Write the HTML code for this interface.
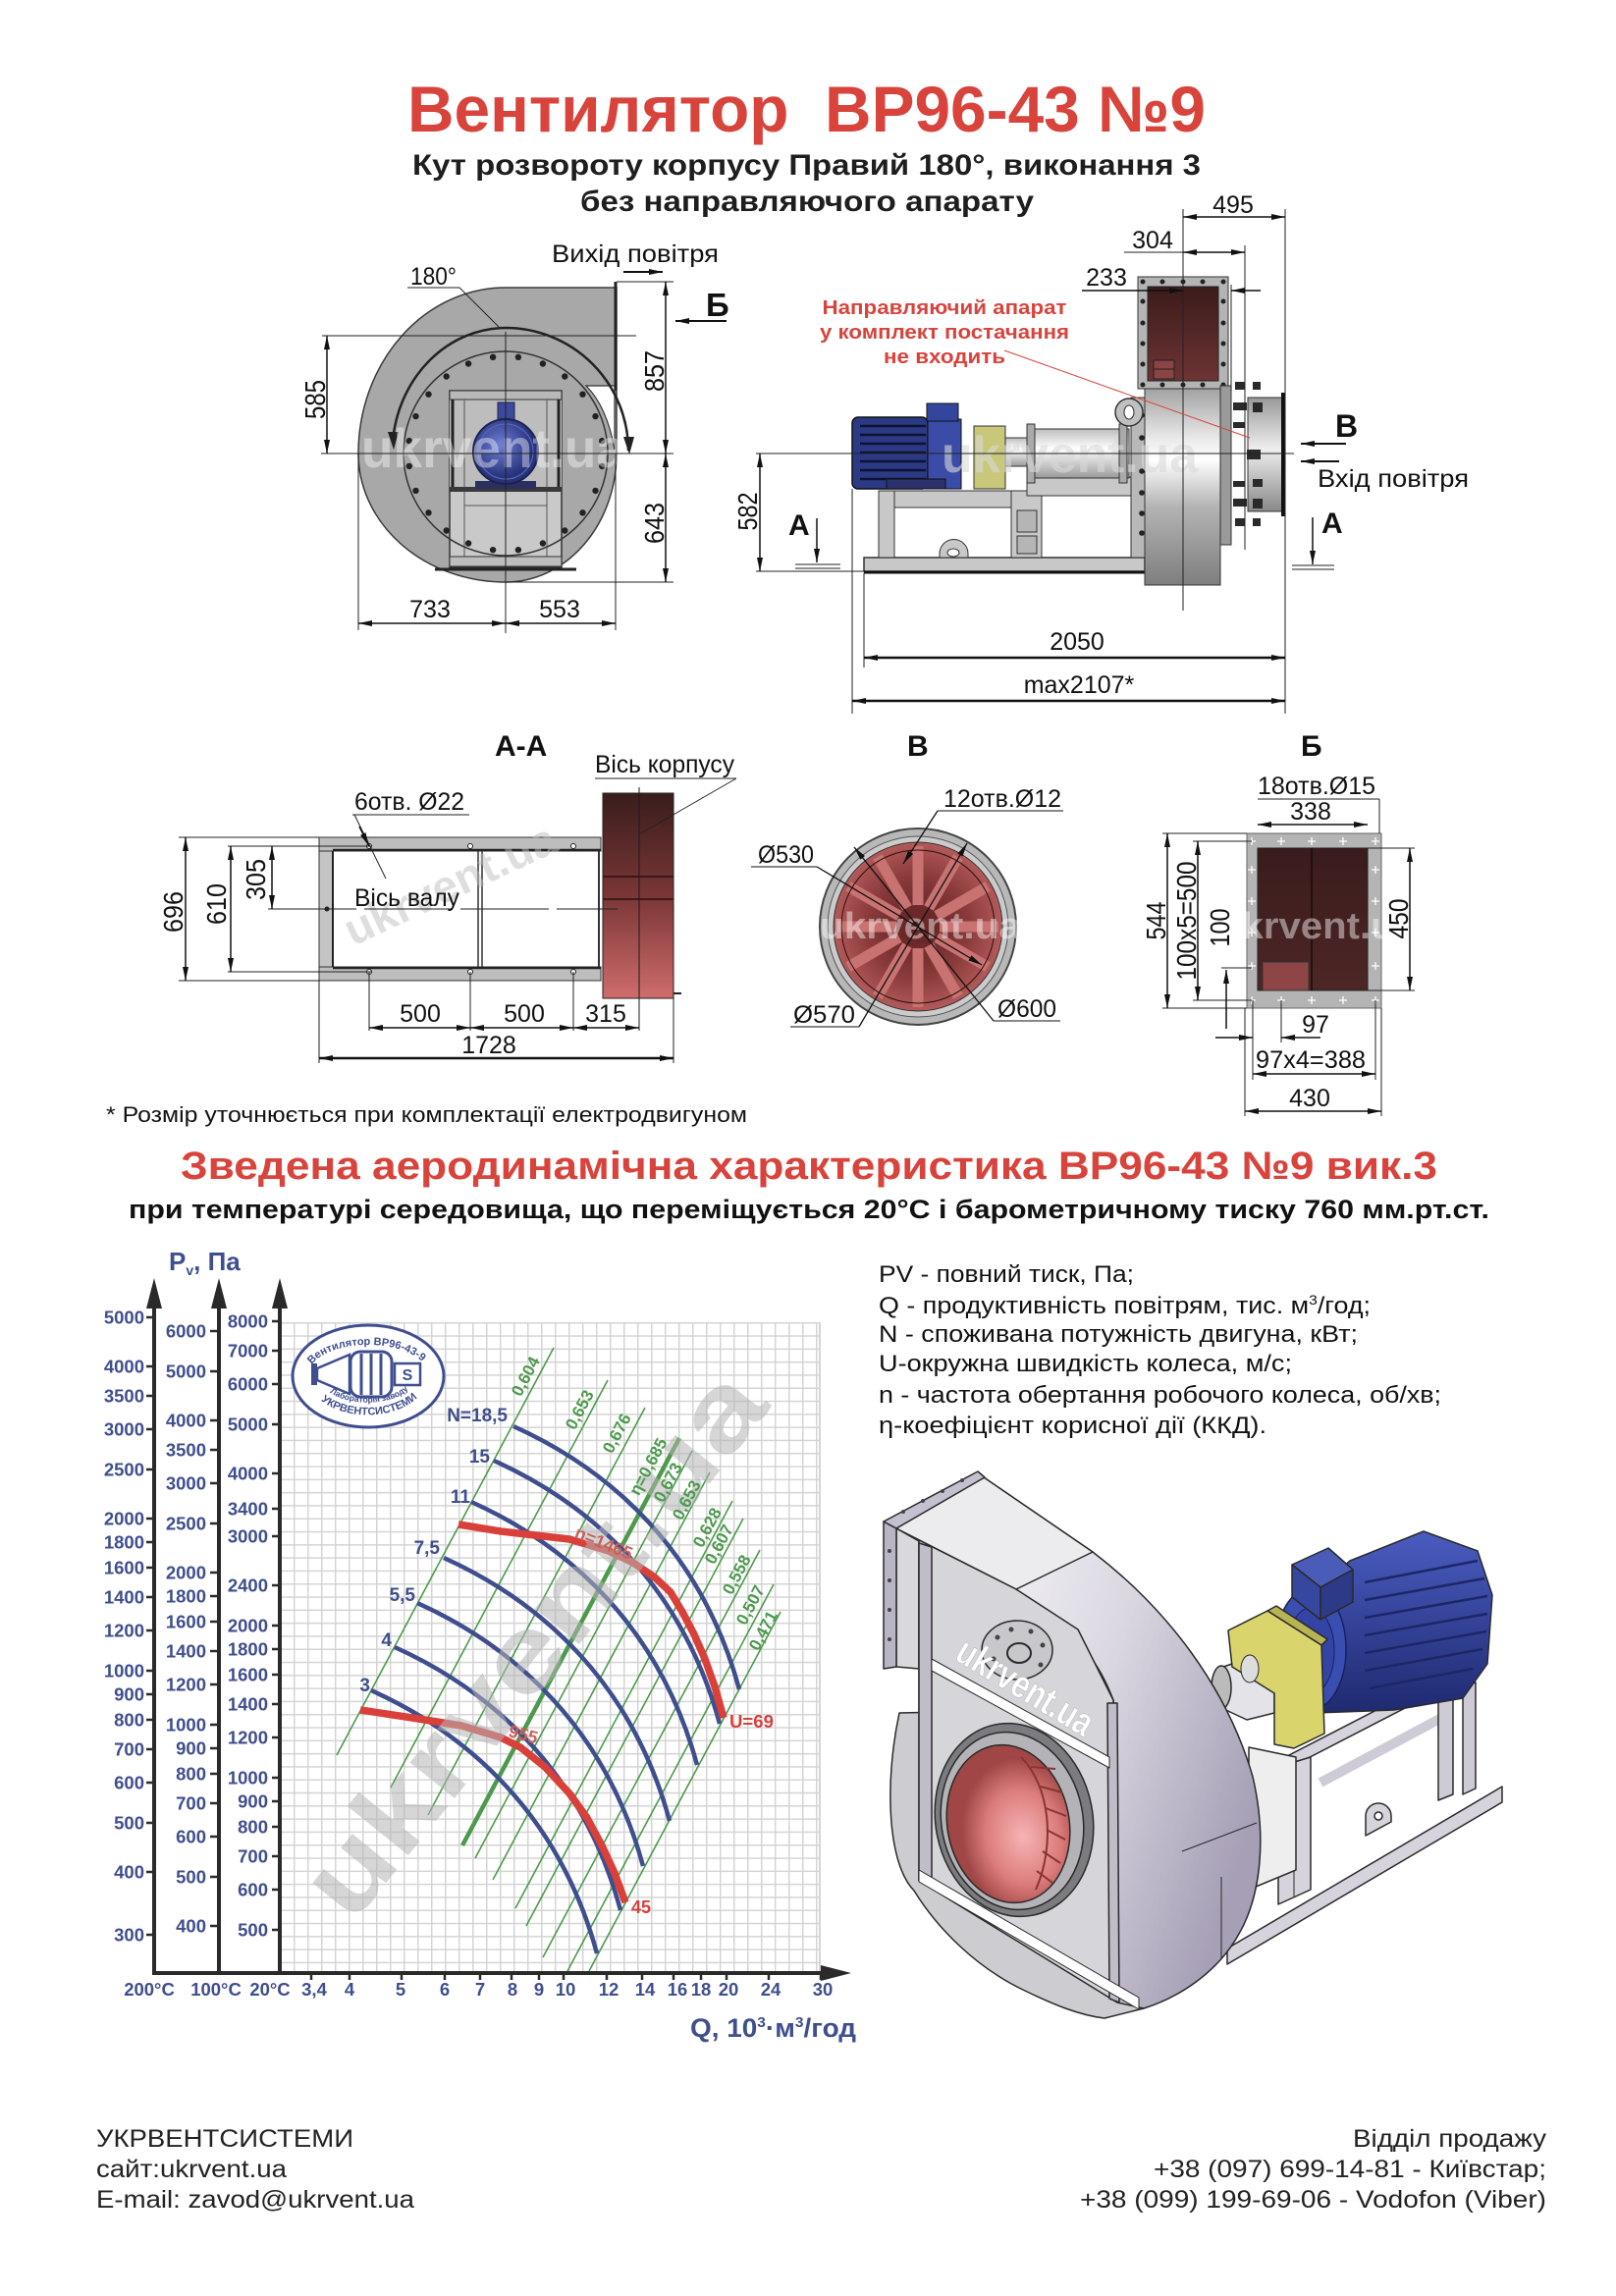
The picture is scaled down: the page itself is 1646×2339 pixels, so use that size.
<!DOCTYPE html>
<html lang="uk"><head><meta charset="utf-8"><title>Вентилятор ВР96-43 №9</title>
<style>html,body{margin:0;padding:0;background:#fff}svg{display:block}text{font-family:"Liberation Sans",Arial,sans-serif}</style></head>
<body>
<svg xmlns="http://www.w3.org/2000/svg" width="1646" height="2339" viewBox="0 0 1646 2339">
<defs>
<marker id="a" viewBox="0 0 14 6" refX="14" refY="3" markerWidth="14" markerHeight="6" markerUnits="userSpaceOnUse" orient="auto-start-reverse"><path d="M0,0L14,3L0,6Z" fill="#111"/></marker>
<pattern id="grid" x="285" y="1347" width="14" height="13.3" patternUnits="userSpaceOnUse"><path d="M0.75,0V13.3M0,0.75H14" stroke="#d4d4d4" stroke-width="1.5" fill="none"/></pattern>
<linearGradient id="casR" x1="0" y1="0" x2="0" y2="1"><stop offset="0" stop-color="#a2a2a2"/><stop offset="0.25" stop-color="#e8e8e8"/><stop offset="0.36" stop-color="#ffffff"/><stop offset="0.6" stop-color="#b4b4b4"/><stop offset="1" stop-color="#7e7e7e"/></linearGradient>
<linearGradient id="brg" x1="0" y1="0" x2="0" y2="1"><stop offset="0" stop-color="#bdbdbd"/><stop offset="0.4" stop-color="#ffffff"/><stop offset="1" stop-color="#9a9a9a"/></linearGradient>
<linearGradient id="outl" x1="0" y1="0" x2="0" y2="1"><stop offset="0" stop-color="#3b1b1b"/><stop offset="1" stop-color="#6e3434"/></linearGradient>
<linearGradient id="aa" x1="0" y1="0" x2="0" y2="1"><stop offset="0" stop-color="#3a1d1d"/><stop offset="0.5" stop-color="#7a3636"/><stop offset="1" stop-color="#cf6c6c"/></linearGradient>
<linearGradient id="bb" x1="0" y1="0" x2="0" y2="1"><stop offset="0" stop-color="#3a1c1c"/><stop offset="1" stop-color="#4e2626"/></linearGradient>
<radialGradient id="bdisk"><stop offset="0" stop-color="#5a2020"/><stop offset="0.6" stop-color="#8a3a3a"/><stop offset="1" stop-color="#b35a5a"/></radialGradient>
<radialGradient id="mot" cx="0.42" cy="0.4"><stop offset="0" stop-color="#7080d8"/><stop offset="1" stop-color="#27327a"/></radialGradient>
<linearGradient id="band" x1="0" y1="0" x2="1" y2="0.6"><stop offset="0" stop-color="#f7f7f9"/><stop offset="0.5" stop-color="#d9d6e0"/><stop offset="1" stop-color="#a69fb6"/></linearGradient>
<radialGradient id="pink" cx="0.6" cy="0.6"><stop offset="0" stop-color="#f6b4b4"/><stop offset="0.6" stop-color="#dc7c7c"/><stop offset="1" stop-color="#a04646"/></radialGradient>
<linearGradient id="cone" x1="0" y1="0" x2="0" y2="1"><stop offset="0" stop-color="#999"/><stop offset="0.45" stop-color="#eee"/><stop offset="1" stop-color="#888"/></linearGradient>
<linearGradient id="motb" x1="0" y1="0" x2="0" y2="1"><stop offset="0" stop-color="#4a5cc0"/><stop offset="1" stop-color="#1f2a70"/></linearGradient>
</defs>

<!-- ===== TITLES ===== -->
<text x="415" y="134" font-size="66" font-weight="bold" fill="#d8433c" textLength="813" lengthAdjust="spacingAndGlyphs" xml:space="preserve">Вентилятор  ВР96-43 №9</text>
<text x="420" y="178" font-size="30" font-weight="bold" fill="#1e1e1e" textLength="803" lengthAdjust="spacingAndGlyphs">Кут розвороту корпусу Правий 180°, виконання 3</text>
<text x="591" y="215" font-size="30" font-weight="bold" fill="#1e1e1e" textLength="462" lengthAdjust="spacingAndGlyphs">без направляючого апарату</text>

<!-- ===== LEFT VIEW ===== -->
<g>
<path d="M628,462 A113,131 0 0 1 515,593 A150,131 0 0 1 365,462 A150,169 0 0 1 515,293 L628,293 L628,462 Z" fill="#a8a8a8" stroke="#3a3a3a" stroke-width="1.5"/>
<path d="M597,393 L626,393 L626,458 C621,430 612,408 597,393 Z" fill="#fff" stroke="#333" stroke-width="1.2"/>
<line x1="627" y1="287" x2="627" y2="398" stroke="#222" stroke-width="3"/>
<rect x="458" y="398" width="114" height="180" fill="#c9c9c9" stroke="#333" stroke-width="1.5"/>
<rect x="458" y="407" width="114" height="90" fill="#bdbdbd"/>
<rect x="458" y="398" width="114" height="9" fill="#b8b8b8" stroke="#333"/>
<line x1="461" y1="407" x2="461" y2="497" stroke="#222" stroke-width="3"/>
<line x1="569" y1="407" x2="569" y2="497" stroke="#222" stroke-width="3"/>
<line x1="473" y1="407" x2="473" y2="567" stroke="#555"/>
<line x1="557" y1="407" x2="557" y2="567" stroke="#555"/>
<rect x="458" y="496" width="114" height="5" fill="#3a3a3a"/>
<line x1="473" y1="515" x2="557" y2="515" stroke="#555"/>
<rect x="458" y="567" width="114" height="10" fill="#bdbdbd" stroke="#333"/>
<line x1="443" y1="580" x2="587" y2="580" stroke="#222" stroke-width="3"/>
<rect x="507" y="410" width="17" height="19" fill="#3b4a9c" stroke="#1c2250"/>
<rect x="484" y="490" width="62" height="8" fill="#2b3060"/>
<circle cx="515" cy="460" r="33" fill="url(#mot)" stroke="#1c2250" stroke-width="2"/>
<circle cx="515" cy="460" r="28" fill="none" stroke="#5565b8" stroke-width="1.2"/>
<circle cx="515" cy="462" r="104" fill="none" stroke="#333" stroke-width="1.5"/>
<g fill="#222">
<circle cx="527.9" cy="363.8" r="3.2"/><circle cx="552.9" cy="370.5" r="3.2"/><circle cx="575.3" cy="383.5" r="3.2"/><circle cx="593.5" cy="401.7" r="3.2"/><circle cx="606.5" cy="424.1" r="3.2"/><circle cx="613.2" cy="449.1" r="3.2"/><circle cx="613.2" cy="474.9" r="3.2"/><circle cx="606.5" cy="499.9" r="3.2"/><circle cx="593.5" cy="522.3" r="3.2"/><circle cx="575.3" cy="540.5" r="3.2"/><circle cx="552.9" cy="553.5" r="3.2"/><circle cx="527.9" cy="560.2" r="3.2"/><circle cx="502.1" cy="560.2" r="3.2"/><circle cx="477.1" cy="553.5" r="3.2"/><circle cx="454.7" cy="540.5" r="3.2"/><circle cx="436.5" cy="522.3" r="3.2"/><circle cx="423.5" cy="499.9" r="3.2"/><circle cx="416.8" cy="474.9" r="3.2"/><circle cx="416.8" cy="449.1" r="3.2"/><circle cx="423.5" cy="424.1" r="3.2"/><circle cx="436.5" cy="401.7" r="3.2"/><circle cx="454.7" cy="383.5" r="3.2"/><circle cx="477.1" cy="370.5" r="3.2"/><circle cx="502.1" cy="363.8" r="3.2"/>
</g>
<path d="M400,450 A116,128 0 0 1 515,334 A125,125 0 0 1 640,459" fill="none" stroke="#222" stroke-width="2.5"/>
<polygon points="395,440 406,440 401,458" fill="#222"/>
<polygon points="635,445 646,445 641,463" fill="#222"/>
<text x="368" y="476" font-size="56" font-weight="bold" fill="#fff" fill-opacity="0.4" textLength="269" lengthAdjust="spacingAndGlyphs">ukrvent.ua</text>
<g stroke="#222" stroke-width="1" fill="none">
<line x1="515" y1="338" x2="515" y2="645"/>
<line x1="327" y1="462" x2="686" y2="462"/>
<line x1="328" y1="342" x2="648" y2="342"/>
<line x1="628" y1="287" x2="686" y2="287"/>
<line x1="515" y1="593" x2="686" y2="593"/>
<line x1="365" y1="462" x2="365" y2="642"/>
<line x1="627" y1="462" x2="627" y2="642"/>
<line x1="415" y1="293" x2="468" y2="293"/>
<line x1="468" y1="293" x2="508" y2="333"/>
</g>
<g stroke="#111" stroke-width="1.5" marker-start="url(#a)" marker-end="url(#a)">
<line x1="333" y1="342" x2="333" y2="462"/>
<line x1="678" y1="287" x2="678" y2="462"/>
<line x1="678" y1="462" x2="678" y2="593"/>
<line x1="365" y1="635" x2="515" y2="635"/>
<line x1="515" y1="635" x2="627" y2="635"/>
</g>
<line x1="635" y1="277" x2="675" y2="277" stroke="#111" stroke-width="2" marker-end="url(#a)"/>
<line x1="740" y1="327" x2="688" y2="327" stroke="#111" stroke-width="2" marker-end="url(#a)"/>
<g font-size="25" fill="#111">
<text x="562" y="267" textLength="170" lengthAdjust="spacingAndGlyphs">Вихід повітря</text>
<text x="418" y="290" textLength="47" lengthAdjust="spacingAndGlyphs">180°</text>
<text x="438" y="629" text-anchor="middle">733</text>
<text x="570" y="629" text-anchor="middle">553</text>
<text x="331" y="407" transform="rotate(-90 331 407)" text-anchor="middle" font-size="29" textLength="40" lengthAdjust="spacingAndGlyphs">585</text>
<text x="676" y="378" transform="rotate(-90 676 378)" text-anchor="middle" font-size="28" textLength="42" lengthAdjust="spacingAndGlyphs">857</text>
<text x="676" y="533" transform="rotate(-90 676 533)" text-anchor="middle" font-size="28" textLength="42" lengthAdjust="spacingAndGlyphs">643</text>
</g>
<text x="719" y="322" font-size="33" font-weight="bold" fill="#111">Б</text>
</g>

<!-- ===== RIGHT VIEW ===== -->
<g>
<rect x="880" y="568" width="286" height="14" fill="#c8c8c8" stroke="#333" stroke-width="1.5"/>
<line x1="880" y1="583" x2="1166" y2="583" stroke="#111" stroke-width="3"/>
<rect x="895" y="500" width="137" height="17" fill="#c8c8c8" stroke="#333"/>
<rect x="895" y="500" width="16" height="68" fill="#c8c8c8" stroke="#333"/>
<rect x="1030" y="500" width="31" height="68" fill="#c8c8c8" stroke="#333"/>
<rect x="1036" y="520" width="20" height="22" fill="#b5b5b5" stroke="#333"/>
<rect x="1036" y="546" width="20" height="18" fill="#b5b5b5" stroke="#333"/>
<rect x="1046" y="486" width="106" height="19" fill="#c8c8c8" stroke="#333"/>
<path d="M957,568 L957,564 A14.5,14.5 0 0 1 986,564 L986,568 Z" fill="#c8c8c8" stroke="#333"/>
<ellipse cx="971" cy="563" rx="6" ry="4" fill="#fff" stroke="#333"/>
<rect x="868" y="425" width="77" height="73" rx="6" fill="#2c3a86" stroke="#111" stroke-width="1.5"/>
<g stroke="#0d1233" stroke-width="2.5"><line x1="876" y1="434" x2="943" y2="434"/><line x1="876" y1="443" x2="943" y2="443"/><line x1="876" y1="452" x2="943" y2="452"/><line x1="876" y1="461" x2="943" y2="461"/><line x1="876" y1="470" x2="943" y2="470"/><line x1="876" y1="479" x2="943" y2="479"/><line x1="876" y1="488" x2="943" y2="488"/></g>
<rect x="945" y="427" width="34" height="71" fill="#3b4ca8" stroke="#111"/>
<rect x="944" y="411" width="32" height="18" fill="#34459e" stroke="#111"/>
<rect x="903" y="488" width="60" height="10" fill="#2a336e" stroke="#111"/>
<rect x="992" y="434" width="32" height="64" fill="#c9c77a" stroke="#333"/>
<rect x="1024" y="446" width="22" height="29" fill="url(#brg)" stroke="#333"/>
<rect x="1046" y="437" width="104" height="50" fill="url(#brg)" stroke="#333"/>
<rect x="1046" y="432" width="8" height="60" fill="#aaa" stroke="#333"/>
<rect x="1140" y="432" width="8" height="60" fill="#aaa" stroke="#333"/>
<rect x="1166" y="396" width="77" height="200" fill="url(#casR)" stroke="#333"/>
<rect x="1152" y="405" width="14" height="163" fill="#b8b8b8" stroke="#333"/>
<g fill="#222"><circle cx="1163" cy="423" r="2.8"/><circle cx="1163" cy="446" r="2.8"/><circle cx="1163" cy="480" r="2.8"/><circle cx="1163" cy="502" r="2.8"/><circle cx="1163" cy="523" r="2.8"/><circle cx="1163" cy="543" r="2.8"/></g>
<circle cx="1150" cy="420" r="14" fill="#c0c0c0" stroke="#333" stroke-width="1.5"/>
<ellipse cx="1150" cy="420" rx="5" ry="7" fill="#fff" stroke="#333"/>
<rect x="1159" y="282" width="92" height="114" fill="#b4b4b4" stroke="#333"/>
<rect x="1169" y="292" width="72" height="96" fill="url(#outl)" stroke="#222"/>
<rect x="1175" y="367" width="21" height="19" fill="#8a4444" stroke="#222"/>
<line x1="1175" y1="376" x2="1196" y2="376" stroke="#222"/>
<g fill="#222"><circle cx="1164" cy="287" r="2.5"/><circle cx="1184" cy="287" r="2.5"/><circle cx="1205" cy="287" r="2.5"/><circle cx="1225" cy="287" r="2.5"/><circle cx="1246" cy="287" r="2.5"/><circle cx="1164" cy="392" r="2.5"/><circle cx="1184" cy="392" r="2.5"/><circle cx="1205" cy="392" r="2.5"/><circle cx="1225" cy="392" r="2.5"/><circle cx="1246" cy="392" r="2.5"/><circle cx="1164" cy="307" r="2.5"/><circle cx="1164" cy="329" r="2.5"/><circle cx="1164" cy="350" r="2.5"/><circle cx="1164" cy="371" r="2.5"/><circle cx="1246" cy="307" r="2.5"/><circle cx="1246" cy="329" r="2.5"/><circle cx="1246" cy="350" r="2.5"/><circle cx="1246" cy="371" r="2.5"/></g>
<rect x="1243" y="393" width="11" height="162" fill="#9a9a9a" stroke="#333"/>
<rect x="1271" y="405" width="36" height="116" fill="url(#cone)" stroke="#333"/>
<line x1="1307" y1="400" x2="1307" y2="526" stroke="#111" stroke-width="4"/>
<g fill="#2a2a2a"><rect x="1258" y="389" width="10" height="8"/><rect x="1276" y="389" width="8" height="8"/><rect x="1256" y="410" width="14" height="8"/><rect x="1276" y="410" width="10" height="10"/><rect x="1256" y="430" width="12" height="6"/><rect x="1270" y="458" width="14" height="10"/><rect x="1256" y="490" width="12" height="6"/><rect x="1276" y="488" width="10" height="8"/><rect x="1256" y="508" width="14" height="8"/><rect x="1276" y="508" width="10" height="10"/><rect x="1258" y="528" width="10" height="8"/><rect x="1276" y="528" width="8" height="8"/></g>
<text x="959" y="481" font-size="52" font-weight="bold" fill="#d8d8d8" fill-opacity="0.6" textLength="261" lengthAdjust="spacingAndGlyphs">ukrvent.ua</text>
<g stroke="#222" stroke-width="1" fill="none">
<line x1="1205" y1="213" x2="1205" y2="622"/>
<line x1="770" y1="462" x2="1318" y2="462"/>
<line x1="770" y1="582" x2="880" y2="582"/>
<line x1="1309" y1="213" x2="1309" y2="727"/>
<line x1="1268" y1="250" x2="1268" y2="560"/>
<line x1="1254" y1="290" x2="1254" y2="398"/>
<line x1="868" y1="498" x2="868" y2="727"/>
<line x1="880" y1="584" x2="880" y2="680"/>
<line x1="1145" y1="257" x2="1205" y2="257"/>
<line x1="810" y1="575" x2="856" y2="575"/><line x1="810" y1="579" x2="856" y2="579"/>
<line x1="1316" y1="576" x2="1359" y2="576"/><line x1="1316" y1="580" x2="1359" y2="580"/>
</g>
<g stroke="#111" stroke-width="1.5" marker-start="url(#a)" marker-end="url(#a)">
<line x1="1205" y1="221" x2="1309" y2="221"/>
<line x1="1205" y1="257" x2="1268" y2="257"/>
<line x1="774" y1="462" x2="774" y2="582"/>
<line x1="880" y1="670" x2="1309" y2="670" stroke-width="2.5"/>
<line x1="868" y1="714" x2="1309" y2="714" stroke-width="2.5"/>
</g>
<g stroke="#111" stroke-width="1.5" marker-end="url(#a)">
<line x1="1102" y1="296" x2="1205" y2="296"/>
<line x1="1284" y1="296" x2="1254" y2="296"/>
<line x1="832" y1="528" x2="832" y2="573"/>
<line x1="1337" y1="527" x2="1337" y2="575"/>
<line x1="1371" y1="452" x2="1325" y2="452" stroke-width="2"/>
<line x1="1364" y1="470" x2="1325" y2="470" stroke-width="2"/>
</g>
<line x1="1023" y1="357" x2="1273" y2="446" stroke="#d8433c" stroke-width="1"/>
<g font-size="25" fill="#111">
<text x="1256" y="217" text-anchor="middle">495</text>
<text x="1174" y="253" text-anchor="middle">304</text>
<text x="1127" y="291" text-anchor="middle">233</text>
<text x="1097" y="662" text-anchor="middle">2050</text>
<text x="1099" y="706" text-anchor="middle">max2107*</text>
<text x="1342" y="496" textLength="154" lengthAdjust="spacingAndGlyphs">Вхід повітря</text>
<text x="771" y="521" transform="rotate(-90 771 521)" text-anchor="middle" font-size="28" textLength="39" lengthAdjust="spacingAndGlyphs">582</text>
</g>
<g font-weight="bold" fill="#111">
<text x="803" y="545" font-size="30">A</text>
<text x="1346" y="543" font-size="30">A</text>
<text x="1360" y="445" font-size="32">B</text>
</g>
<g font-size="20" font-weight="bold" fill="#d8433c" text-anchor="middle">
<text x="962" y="320" textLength="249" lengthAdjust="spacingAndGlyphs">Направляючий апарат</text>
<text x="962" y="345" textLength="254" lengthAdjust="spacingAndGlyphs">у комплект постачання</text>
<text x="962" y="370" textLength="124" lengthAdjust="spacingAndGlyphs">не входить</text>
</g>
</g>

<!-- ===== SECTION HEADINGS ===== -->
<g font-size="30" font-weight="bold" fill="#111">
<text x="504" y="770">A-A</text>
<text x="924" y="770">В</text>
<text x="1325" y="770">Б</text>
</g>

<!-- ===== A-A ===== -->
<g>
<rect x="325" y="853" width="287" height="14" fill="#bdbdbd" stroke="#333"/>
<rect x="325" y="985" width="287" height="14" fill="#bdbdbd" stroke="#333"/>
<rect x="325" y="867" width="14" height="118" fill="#c4c4c4" stroke="#333"/>
<line x1="339" y1="866" x2="612" y2="866" stroke="#222" stroke-width="2.5"/>
<line x1="339" y1="986" x2="612" y2="986" stroke="#222" stroke-width="2.5"/>
<line x1="339" y1="867" x2="339" y2="985" stroke="#222" stroke-width="2"/>
<line x1="487" y1="867" x2="487" y2="985" stroke="#333" stroke-width="1.5"/>
<line x1="491" y1="867" x2="491" y2="985" stroke="#333" stroke-width="1.5"/>
<line x1="610" y1="867" x2="610" y2="985" stroke="#333" stroke-width="2"/>
<g fill="#fff" stroke="#222"><circle cx="376" cy="862" r="2.5"/><circle cx="479" cy="862" r="2.5"/><circle cx="584" cy="862" r="2.5"/><circle cx="376" cy="990" r="2.5"/><circle cx="479" cy="990" r="2.5"/><circle cx="584" cy="990" r="2.5"/></g>
<circle cx="333" cy="926" r="2.5" fill="#222"/>
<rect x="614" y="808" width="72" height="209" fill="url(#aa)" stroke="#222"/>
<line x1="614" y1="893" x2="686" y2="893" stroke="#2a1010" stroke-width="1.5"/>
<line x1="614" y1="916" x2="686" y2="916" stroke="#2a1010" stroke-width="1.5"/>
<line x1="651" y1="802" x2="651" y2="1050" stroke="#1a1a1a" stroke-width="1"/>
<line x1="686" y1="1012" x2="694" y2="1012" stroke="#222" stroke-width="2"/>
<text transform="translate(465,915) rotate(-25)" text-anchor="middle" font-size="46" font-weight="bold" fill="#bdbdbd" fill-opacity="0.5">ukrvent.ua</text>
<g stroke="#222" stroke-width="1" fill="none">
<line x1="273" y1="926" x2="629" y2="926" stroke-dasharray="90 8"/>
<line x1="182" y1="853" x2="325" y2="853"/>
<line x1="182" y1="999" x2="325" y2="999"/>
<line x1="232" y1="862" x2="379" y2="862"/>
<line x1="232" y1="990" x2="379" y2="990"/>
<line x1="359" y1="830" x2="478" y2="830"/>
<line x1="361" y1="830" x2="393" y2="895"/>
<line x1="606" y1="793" x2="750" y2="793"/>
<line x1="750" y1="793" x2="651" y2="850"/>
<line x1="325" y1="999" x2="325" y2="1083"/>
<line x1="686" y1="1017" x2="686" y2="1083"/>
<line x1="376" y1="990" x2="376" y2="1050"/>
<line x1="479" y1="990" x2="479" y2="1050"/>
<line x1="584" y1="990" x2="584" y2="1050"/>
</g>
<line x1="366" y1="842" x2="376" y2="862" stroke="#111" stroke-width="1.5" marker-end="url(#a)"/>
<g stroke="#111" stroke-width="1.5" marker-start="url(#a)" marker-end="url(#a)">
<line x1="189" y1="853" x2="189" y2="999"/>
<line x1="235" y1="862" x2="235" y2="990"/>
<line x1="277" y1="862" x2="277" y2="926"/>
<line x1="376" y1="1047" x2="479" y2="1047"/>
<line x1="479" y1="1047" x2="584" y2="1047"/>
<line x1="584" y1="1047" x2="651" y2="1047"/>
<line x1="325" y1="1078" x2="686" y2="1078" stroke-width="2.5"/>
</g>
<g font-size="25" fill="#111">
<text x="606" y="787" textLength="142" lengthAdjust="spacingAndGlyphs">Вісь корпусу</text>
<text x="361" y="825" textLength="112" lengthAdjust="spacingAndGlyphs">6отв. Ø22</text>
<text x="361" y="923" textLength="107" lengthAdjust="spacingAndGlyphs">Вісь валу</text>
<text x="428" y="1041" text-anchor="middle">500</text>
<text x="534" y="1041" text-anchor="middle">500</text>
<text x="617" y="1041" text-anchor="middle">315</text>
<text x="498" y="1073" text-anchor="middle">1728</text>
<text x="186" y="929" transform="rotate(-90 186 929)" text-anchor="middle" font-size="28" textLength="42" lengthAdjust="spacingAndGlyphs">696</text>
<text x="230" y="921" transform="rotate(-90 230 921)" text-anchor="middle" font-size="28" textLength="42" lengthAdjust="spacingAndGlyphs">610</text>
<text x="270" y="896" transform="rotate(-90 270 896)" text-anchor="middle" font-size="28" textLength="42" lengthAdjust="spacingAndGlyphs">305</text>
</g>
</g>

<!-- ===== VIEW В ===== -->
<g>
<circle cx="935" cy="944" r="100" fill="#b8b8b8" stroke="#444" stroke-width="2"/>
<circle cx="935" cy="944" r="92" fill="#cbcbcb" stroke="#555"/>
<circle cx="935" cy="944" r="86" fill="url(#bdisk)" stroke="#333"/>
<path d="M957,944L1017,944M954.1,955L1006,985M946,963.1L976,1015M935,966L935,1026M924,963.1L894,1015M915.9,955L864,985M913,944L853,944M915.9,933L864,903M924,924.9L894,873M935,922L935,862M946,924.9L976,873M954.1,933L1006,903" stroke="#c87272" stroke-width="11"/>
<circle cx="935" cy="944" r="78" fill="none" stroke="#2a1010" stroke-width="1"/>
<circle cx="935" cy="944" r="18" fill="#6a2828"/>
<text x="835" y="956" font-size="38" font-weight="bold" fill="#fff" fill-opacity="0.45" textLength="205" lengthAdjust="spacingAndGlyphs">ukrvent.ua</text>
<g stroke="#111" stroke-width="1" fill="none">
<line x1="955" y1="826" x2="1083" y2="826"/>
<line x1="765" y1="883" x2="832" y2="883"/>
<line x1="805" y1="1046" x2="875" y2="1046"/>
<line x1="1012" y1="1040" x2="1080" y2="1040"/>
</g>
<g stroke="#111" stroke-width="1.3" marker-end="url(#a)">
<line x1="955" y1="826" x2="920" y2="880"/>
<line x1="832" y1="883" x2="1000" y2="983"/>
<line x1="875" y1="1046" x2="985" y2="859"/>
<line x1="1012" y1="1040" x2="870" y2="863"/>
</g>
<g font-size="25" fill="#111">
<text x="961" y="822" textLength="120" lengthAdjust="spacingAndGlyphs">12отв.Ø12</text>
<text x="772" y="879" textLength="57" lengthAdjust="spacingAndGlyphs">Ø530</text>
<text x="808" y="1042" textLength="63" lengthAdjust="spacingAndGlyphs">Ø570</text>
<text x="1016" y="1036" textLength="60" lengthAdjust="spacingAndGlyphs">Ø600</text>
</g>
</g>

<!-- ===== VIEW Б ===== -->
<g>
<rect x="1270" y="849" width="137" height="178" fill="#b4b4b4" stroke="#666"/>
<rect x="1281" y="864" width="112" height="145" fill="url(#bb)" stroke="#222"/>
<line x1="1336" y1="864" x2="1336" y2="1009" stroke="#1a0a0a" stroke-width="1.5"/>
<rect x="1286" y="980" width="47" height="29" fill="#8e4545" stroke="#333"/>
<g stroke="#fff" stroke-width="1.3">
<path d="M1271,857h8M1275,853v8M1301,857h8M1305,853v8M1332,857h8M1336,853v8M1364,857h8M1368,853v8M1397,857h8M1401,853v8"/>
<path d="M1271,1019h8M1275,1015v8M1301,1019h8M1305,1015v8M1332,1019h8M1336,1015v8M1364,1019h8M1368,1015v8M1397,1019h8M1401,1015v8"/>
<path d="M1271,886h8M1275,882v8M1271,918h8M1275,914v8M1271,950h8M1275,946v8M1271,984h8M1275,980v8"/>
<path d="M1397,886h8M1401,882v8M1397,918h8M1401,914v8M1397,950h8M1401,946v8M1397,984h8M1401,980v8"/>
</g>
<text x="1240" y="956" font-size="38" font-weight="bold" fill="#fff" fill-opacity="0.45" textLength="203" lengthAdjust="spacingAndGlyphs">ukrvent.ua</text>
<g stroke="#222" stroke-width="1" fill="none">
<line x1="1281" y1="814" x2="1405" y2="814"/>
<line x1="1405" y1="814" x2="1405" y2="849"/>
<line x1="1184" y1="849" x2="1270" y2="849"/>
<line x1="1184" y1="1027" x2="1270" y2="1027"/>
<line x1="1215" y1="857" x2="1275" y2="857"/>
<line x1="1215" y1="1019" x2="1275" y2="1019"/>
<line x1="1244" y1="986" x2="1275" y2="986"/>
<line x1="1393" y1="864" x2="1441" y2="864"/>
<line x1="1393" y1="1009" x2="1441" y2="1009"/>
<line x1="1268" y1="1027" x2="1268" y2="1137"/>
<line x1="1407" y1="1027" x2="1407" y2="1137"/>
<line x1="1276" y1="1019" x2="1276" y2="1100"/>
<line x1="1401" y1="1019" x2="1401" y2="1100"/>
<line x1="1305" y1="1019" x2="1305" y2="1062"/>
</g>
<g stroke="#111" stroke-width="1.5" marker-start="url(#a)" marker-end="url(#a)">
<line x1="1281" y1="840" x2="1393" y2="840"/>
<line x1="1189" y1="849" x2="1189" y2="1027"/>
<line x1="1220" y1="857" x2="1220" y2="1019"/>
<line x1="1436" y1="864" x2="1436" y2="1009"/>
<line x1="1276" y1="1094" x2="1401" y2="1094"/>
<line x1="1268" y1="1132" x2="1407" y2="1132"/>
</g>
<g stroke="#111" stroke-width="1.5" marker-end="url(#a)">
<line x1="1249" y1="1048" x2="1249" y2="988"/>
<line x1="1238" y1="1057" x2="1276" y2="1057"/>
<line x1="1345" y1="1057" x2="1305" y2="1057"/>
</g>
<g font-size="25" fill="#111">
<text x="1281" y="809" textLength="120" lengthAdjust="spacingAndGlyphs">18отв.Ø15</text>
<text x="1335" y="835" text-anchor="middle">338</text>
<text x="1340" y="1052" text-anchor="middle">97</text>
<text x="1279" y="1088" textLength="112" lengthAdjust="spacingAndGlyphs">97x4=388</text>
<text x="1334" y="1127" text-anchor="middle">430</text>
<text x="1187" y="938" transform="rotate(-90 1187 938)" text-anchor="middle" font-size="28" textLength="39" lengthAdjust="spacingAndGlyphs">544</text>
<text x="1218" y="938" transform="rotate(-90 1218 938)" text-anchor="middle" font-size="28" textLength="121" lengthAdjust="spacingAndGlyphs">100x5=500</text>
<text x="1252" y="945" transform="rotate(-90 1252 945)" text-anchor="middle" font-size="28" textLength="39" lengthAdjust="spacingAndGlyphs">100</text>
<text x="1434" y="936" transform="rotate(-90 1434 936)" text-anchor="middle" font-size="28" textLength="41" lengthAdjust="spacingAndGlyphs">450</text>
</g>
</g>

<!-- ===== FOOTNOTE & HEADINGS ===== -->
<text x="108" y="1143" font-size="22" fill="#111" textLength="653" lengthAdjust="spacingAndGlyphs">* Розмір уточнюється при комплектації електродвигуном</text>
<text x="184" y="1201" font-size="40" font-weight="bold" fill="#d8433c" textLength="1280" lengthAdjust="spacingAndGlyphs">Зведена аеродинамічна характеристика ВР96-43 №9 вик.3</text>
<text x="131" y="1241" font-size="27" font-weight="bold" fill="#111" textLength="1386" lengthAdjust="spacingAndGlyphs">при температурі середовища, що переміщується 20°С і барометричному тиску 760 мм.рт.ст.</text>

<!-- ===== CHART ===== -->
<g>
<rect x="285" y="1347" width="550" height="663" fill="url(#grid)"/>
<line x1="835" y1="1347" x2="835" y2="2010" stroke="#d4d4d4" stroke-width="2"/>
<!-- green eff lines -->
<g stroke="#4c9a4c" stroke-width="1.6">
<line x1="564" y1="1373" x2="343" y2="1788"/>
<line x1="619" y1="1406" x2="398" y2="1821"/>
<line x1="657" y1="1434" x2="436" y2="1849"/>
<line x1="705" y1="1478" x2="484" y2="1893"/>
<line x1="723" y1="1500" x2="502" y2="1915"/>
<line x1="746" y1="1529" x2="525" y2="1944"/>
<line x1="757" y1="1547" x2="536" y2="1962"/>
<line x1="774" y1="1579" x2="553" y2="1994"/>
<line x1="788" y1="1614" x2="578" y2="2008"/>
<line x1="795" y1="1642" x2="600" y2="2008"/>
</g>
<line x1="692" y1="1465" x2="471" y2="1880" stroke="#4c9a4c" stroke-width="4.5"/>
<!-- blue curves -->
<g stroke="#3f4e8e" stroke-width="4.5" fill="none" stroke-linecap="butt">
<path d="M523,1453 c100,45 192,128 230,268"/>
<path d="M503,1488 c100,45 192,128 230,268"/>
<path d="M480,1530 c100,45 192,128 230,268"/>
<path d="M452,1587 c100,45 192,128 230,268"/>
<path d="M425,1633 c100,45 192,128 230,268"/>
<path d="M402,1678 c100,45 192,128 230,268"/>
<path d="M378,1722 c100,45 192,128 230,268"/>
</g>
<!-- red curves -->
<g stroke="#d9403a" stroke-width="7.5" fill="none" stroke-linejoin="round">
<polyline points="467,1553 510,1560 580,1568 620,1580 645,1592 667,1607 683,1622 695,1642 707,1665 718,1690 728,1718 737,1750"/>
<polyline points="367,1742 420,1750 470,1758 510,1770 530,1780 555,1800 580,1827 598,1852 613,1880 626,1908 637,1938"/>
</g>
<!-- watermark -->
<text transform="translate(545,1675) rotate(-51)" y="35" text-anchor="middle" font-size="110" font-weight="bold" fill="#b4b4b4" fill-opacity="0.55" textLength="680" lengthAdjust="spacingAndGlyphs">ukrvent.ua</text>
<!-- green labels -->
<g font-size="17" font-weight="bold" fill="#4c9a4c" text-anchor="middle">
<text transform="translate(535,1402) rotate(-62)" y="6">0,604</text>
<text transform="translate(590,1436) rotate(-62)" y="6">0,653</text>
<text transform="translate(628,1460) rotate(-62)" y="6">0,676</text>
<text transform="translate(660,1494) rotate(-62)" y="6">η=0,685</text>
<text transform="translate(680,1510) rotate(-62)" y="6">0,673</text>
<text transform="translate(699,1528) rotate(-62)" y="6">0,653</text>
<text transform="translate(720,1556) rotate(-62)" y="6">0,628</text>
<text transform="translate(732,1573) rotate(-62)" y="6">0,607</text>
<text transform="translate(750,1604) rotate(-62)" y="6">0,558</text>
<text transform="translate(764,1635) rotate(-62)" y="6">0,507</text>
<text transform="translate(777,1661) rotate(-62)" y="6">0,471</text>
</g>
<!-- blue labels -->
<g font-size="19" font-weight="bold" fill="#3f4e8e" text-anchor="end">
<text x="517" y="1448">N=18,5</text>
<text x="499" y="1490">15</text>
<text x="479" y="1531">11</text>
<text x="448" y="1583">7,5</text>
<text x="423" y="1631">5,5</text>
<text x="399" y="1677">4</text>
<text x="377" y="1723">3</text>
</g>
<g font-size="18" font-weight="bold" fill="#d9403a">
<text x="743" y="1760" textLength="45" lengthAdjust="spacingAndGlyphs">U=69</text>
<text x="643" y="1949">45</text>
<text transform="translate(615,1572) rotate(22)" y="6" text-anchor="middle" fill="#c9605a">n=1465</text>
<text transform="translate(533,1767) rotate(15)" y="6" text-anchor="middle" fill="#c9605a">955</text>
</g>
<!-- axes -->
<g stroke="#2a2a2a" stroke-width="4">
<line x1="157" y1="1325" x2="157" y2="2012"/>
<line x1="223" y1="1325" x2="223" y2="2012"/>
<line x1="285" y1="1325" x2="285" y2="2012"/>
<line x1="155" y1="2010" x2="848" y2="2010"/>
</g>
<g fill="#2a2a2a">
<polygon points="157,1302 149,1333 165,1333"/>
<polygon points="223,1302 215,1333 231,1333"/>
<polygon points="285,1302 277,1333 293,1333"/>
<polygon points="867,2010 836,2002 836,2018"/>
</g>
<g stroke="#2a2a2a" stroke-width="2.5">
<path d="M149,1342h8M149,1392h8M149,1422h8M149,1456h8M149,1497h8M149,1547h8M149,1571h8M149,1597h8M149,1627h8M149,1661h8M149,1702h8M149,1726h8M149,1752h8M149,1782h8M149,1816h8M149,1857h8M149,1907h8M149,1971h8"/>
<path d="M214,1356h9M214,1397h9M214,1447h9M214,1477h9M214,1511h9M214,1552h9M214,1602h9M214,1626h9M214,1652h9M214,1682h9M214,1716h9M214,1757h9M214,1781h9M214,1807h9M214,1837h9M214,1871h9M214,1912h9M214,1962h9"/>
<path d="M277,1346h8M277,1376h8M277,1410h8M277,1451h8M277,1501h8M277,1537h8M277,1565h8M277,1615h8M277,1656h8M277,1680h8M277,1706h8M277,1736h8M277,1770h8M277,1811h8M277,1835h8M277,1861h8M277,1891h8M277,1925h8M277,1966h8"/>
<path d="M317,2010v7M356,2010v7M409,2010v7M453,2010v7M489,2010v7M521,2010v7M549,2010v7M574,2010v7M618,2010v7M654,2010v7M686,2010v7M714,2010v7M740,2010v7M783,2010v7M836,2010v7"/>
</g>
<g font-size="18.5" font-weight="bold" fill="#3f4e8e" text-anchor="end">
<text x="147" y="1348.5">5000</text><text x="147" y="1398.5">4000</text><text x="147" y="1428.5">3500</text><text x="147" y="1462.5">3000</text><text x="147" y="1503.5">2500</text><text x="147" y="1553.5">2000</text><text x="147" y="1577.5">1800</text><text x="147" y="1603.5">1600</text><text x="147" y="1633.5">1400</text><text x="147" y="1667.5">1200</text><text x="147" y="1708.5">1000</text><text x="147" y="1732.5">900</text><text x="147" y="1758.5">800</text><text x="147" y="1788.5">700</text><text x="147" y="1822.5">600</text><text x="147" y="1863.5">500</text><text x="147" y="1913.5">400</text><text x="147" y="1977.5">300</text>
<text x="210" y="1362.5">6000</text><text x="210" y="1403.5">5000</text><text x="210" y="1453.5">4000</text><text x="210" y="1483.5">3500</text><text x="210" y="1517.5">3000</text><text x="210" y="1558.5">2500</text><text x="210" y="1608.5">2000</text><text x="210" y="1632.5">1800</text><text x="210" y="1658.5">1600</text><text x="210" y="1688.5">1400</text><text x="210" y="1722.5">1200</text><text x="210" y="1763.5">1000</text><text x="210" y="1787.5">900</text><text x="210" y="1813.5">800</text><text x="210" y="1843.5">700</text><text x="210" y="1877.5">600</text><text x="210" y="1918.5">500</text><text x="210" y="1968.5">400</text>
<text x="273" y="1352.5">8000</text><text x="273" y="1382.5">7000</text><text x="273" y="1416.5">6000</text><text x="273" y="1457.5">5000</text><text x="273" y="1507.5">4000</text><text x="273" y="1543.5">3400</text><text x="273" y="1571.5">3000</text><text x="273" y="1621.5">2400</text><text x="273" y="1662.5">2000</text><text x="273" y="1686.5">1800</text><text x="273" y="1712.5">1600</text><text x="273" y="1742.5">1400</text><text x="273" y="1776.5">1200</text><text x="273" y="1817.5">1000</text><text x="273" y="1841.5">900</text><text x="273" y="1867.5">800</text><text x="273" y="1897.5">700</text><text x="273" y="1931.5">600</text><text x="273" y="1972.5">500</text>
</g>
<g font-size="18.5" font-weight="bold" fill="#3f4e8e" text-anchor="middle">
<text x="152" y="2033">200°C</text><text x="220" y="2033">100°C</text><text x="275" y="2033">20°C</text><text x="320" y="2033">3,4</text><text x="356" y="2033">4</text><text x="408" y="2033">5</text><text x="453" y="2033">6</text><text x="489" y="2033">7</text><text x="522" y="2033">8</text><text x="549" y="2033">9</text><text x="576" y="2033">10</text><text x="620" y="2033">12</text><text x="657" y="2033">14</text><text x="690" y="2033">16</text><text x="714" y="2033">18</text><text x="742" y="2033">20</text><text x="785" y="2033">24</text><text x="838" y="2033">30</text>
</g>
<text x="172" y="1294" font-size="26" font-weight="bold" fill="#3f4e8e">P<tspan font-size="14" dy="5">v</tspan><tspan dy="-5">, Па</tspan></text>
<text x="703" y="2075" font-size="27" font-weight="bold" fill="#3f4e8e" textLength="169" lengthAdjust="spacingAndGlyphs">Q, 10<tspan font-size="15" dy="-10">3</tspan><tspan dy="10">·м</tspan><tspan font-size="15" dy="-10">3</tspan><tspan dy="10">/год</tspan></text>
<!-- logo -->
<ellipse cx="375" cy="1402" rx="77" ry="52" fill="#fff" stroke="#3f4e8e" stroke-width="3"/>
<path id="lt" d="M313,1404 A62,32 0 0 1 437,1400" fill="none"/>
<path id="lb" d="M316,1412 A60,38 0 0 0 434,1408" fill="none"/>
<path id="lb2" d="M330,1412 A46,23 0 0 0 420,1408" fill="none"/>
<text font-size="11" font-weight="bold" fill="#3f4e8e"><textPath href="#lt" startOffset="50%" text-anchor="middle">Вентилятор ВР96-43-9</textPath></text>
<text font-size="11" font-weight="bold" fill="#3f4e8e"><textPath href="#lb" startOffset="50%" text-anchor="middle">УКРВЕНТСИСТЕМИ</textPath></text>
<text font-size="8.5" font-weight="bold" fill="#3f4e8e"><textPath href="#lb2" startOffset="50%" text-anchor="middle">Лабораторія заводу</textPath></text>
<rect x="317" y="1389" width="6" height="22" fill="#3f4e8e"/>
<polygon points="323,1394 356,1380 356,1420 323,1406" fill="#fff" stroke="#3f4e8e" stroke-width="2.5"/>
<rect x="357" y="1377" width="42" height="46" rx="10" fill="#fff" stroke="#3f4e8e" stroke-width="3"/>
<g stroke="#3f4e8e" stroke-width="3"><line x1="368" y1="1379" x2="368" y2="1421"/><line x1="378" y1="1379" x2="378" y2="1421"/><line x1="388" y1="1379" x2="388" y2="1421"/></g>
<rect x="402" y="1389" width="26" height="22" fill="#fff" stroke="#3f4e8e" stroke-width="2.5"/>
<text x="415" y="1406" font-size="16" font-weight="bold" fill="#3f4e8e" text-anchor="middle">S</text>
</g>

<!-- ===== LEGEND ===== -->
<g font-size="24" fill="#111">
<text x="895" y="1306" textLength="260" lengthAdjust="spacingAndGlyphs">PV - повний тиск, Па;</text>
<text x="895" y="1338" textLength="501" lengthAdjust="spacingAndGlyphs">Q - продуктивність повітрям, тис. м<tspan font-size="14" dy="-9">3</tspan><tspan dy="9">/год;</tspan></text>
<text x="895" y="1367" textLength="488" lengthAdjust="spacingAndGlyphs">N - споживана потужність двигуна, кВт;</text>
<text x="895" y="1397" textLength="421" lengthAdjust="spacingAndGlyphs">U-окружна швидкість колеса, м/с;</text>
<text x="895" y="1429" textLength="573" lengthAdjust="spacingAndGlyphs">n - частота обертання робочого колеса, об/хв;</text>
<text x="895" y="1460" textLength="395" lengthAdjust="spacingAndGlyphs">η-коефіцієнт корисної дії (ККД).</text>
</g>

<!-- ===== 3D FAN ===== -->
<g stroke="#2a2a2a" stroke-width="1.5" stroke-linejoin="round">
<polygon points="1250,1985 1530,1820 1530,1836 1250,2001" fill="#d6d3dc"/>
<polygon points="1280,1805 1470,1707 1470,1720 1280,1818" fill="#d6d3dc"/>
<line x1="1345" y1="1816" x2="1472" y2="1748" stroke="#cfcbd6" stroke-width="10"/>
<polygon points="1465,1712 1480,1710 1480,1828 1465,1834" fill="#cfcbd6"/>
<polygon points="1490,1716 1503,1714 1503,1822 1490,1828" fill="#cfcbd6"/>
<polygon points="1302,1800 1335,1790 1335,1925 1302,1940" fill="#d6d3dc"/>
<line x1="1318" y1="1795" x2="1318" y2="1932" stroke-width="1"/>
<path d="M1391,1870 L1391,1850 A13,13 0 0 1 1417,1850 L1417,1856 Z" fill="#d6d3dc"/>
<circle cx="1404" cy="1850" r="4" fill="#fff"/>
<polygon points="1272,1780 1320,1790 1320,1905 1272,1925" fill="#eeeeee"/>
<polygon points="1335,1625 1375,1590 1450,1560 1505,1580 1520,1625 1515,1695 1490,1730 1420,1742 1340,1745" fill="url(#motb)"/>
<g stroke="#1d2766" stroke-width="2.5"><line x1="1390" y1="1612" x2="1505" y2="1590"/><line x1="1390" y1="1630" x2="1512" y2="1608"/><line x1="1390" y1="1648" x2="1515" y2="1626"/><line x1="1390" y1="1666" x2="1515" y2="1644"/><line x1="1390" y1="1684" x2="1514" y2="1662"/><line x1="1390" y1="1702" x2="1510" y2="1680"/><line x1="1395" y1="1720" x2="1500" y2="1700"/></g>
<ellipse cx="1335" cy="1680" rx="36" ry="62" fill="#3a4db0" stroke="#1a2060"/>
<ellipse cx="1335" cy="1682" rx="24" ry="44" fill="#3344a4" stroke="#1a2060" stroke-width="1"/>
<polygon points="1316,1594 1353,1577 1378,1599 1345,1617" fill="#4a5cb8"/>
<polygon points="1316,1594 1345,1617 1345,1650 1316,1627" fill="#3647a0"/>
<polygon points="1345,1617 1378,1599 1378,1632 1345,1650" fill="#2c3a88"/>
<polygon points="1240,1700 1270,1690 1298,1712 1298,1745 1270,1752 1240,1738" fill="#e4e4e8"/>
<ellipse cx="1244" cy="1719" rx="10" ry="22" fill="#bbb"/>
<polygon points="1291,1641 1300,1636 1352,1670 1346,1676" fill="#b8b454"/>
<polygon points="1251,1661 1291,1641 1346,1676 1349,1766 1318,1781 1298,1777 1298,1725 1255,1698" fill="#d9d46c"/>
<ellipse cx="1273" cy="1700" rx="9" ry="14" fill="#ddd" stroke-width="1"/>
<path d="M916,1745 C900,1820 905,1900 931,1926 C955,1965 995,2005 1044,2028 C1075,2043 1100,2053 1125,2056 L1165,2046 L1140,1740 Z" fill="#cdcdd1"/>
<path d="M1002,1505 L1113,1581 C1190,1640 1250,1720 1276,1810 C1290,1870 1285,1930 1262,1970 C1240,2010 1200,2035 1165,2046 L1138,2040 L1134,1732 C1120,1695 1100,1665 1035,1619 Z" fill="url(#band)"/>
<line x1="1204" y1="1886" x2="1280" y2="1857" stroke-width="1"/>
<line x1="1244" y1="1912" x2="1244" y2="1995" stroke-width="1"/>
<polygon points="913,1557 1002,1505 1113,1581 1035,1619" fill="#ececef"/>
<polygon points="913,1557 936,1570 936,1700 913,1698" fill="#d9d9dd"/>
<polygon points="936,1569 1035,1619 1098,1660 1134,1732 1138,2040 936,1916" fill="#d5d5da"/>
<polygon points="936,1572 949,1576 949,1914 936,1916" fill="#c0bcc8"/>
<polygon points="1128,1735 1138,1735 1140,2040 1130,2036" fill="#c0bcc8"/>
<polygon points="949,1690 1130,1790 1130,1801 949,1702" fill="#fff" stroke-width="1"/>
<polygon points="936,1905 1160,2035 1160,2047 936,1917" fill="#fff" stroke-width="1"/>
<polygon points="900,1550 913,1557 913,1698 900,1700" fill="#b9b5c4"/>
<polygon points="900,1550 996,1499 1003,1505 913,1557" fill="#c4c0cf"/>
<g fill="#444" stroke="none"><circle cx="920" cy="1540" r="2"/><circle cx="940" cy="1529" r="2"/><circle cx="960" cy="1519" r="2"/><circle cx="980" cy="1508" r="2"/><circle cx="906" cy="1580" r="2"/><circle cx="906" cy="1610" r="2"/><circle cx="906" cy="1640" r="2"/><circle cx="906" cy="1670" r="2"/></g>
<ellipse cx="1036" cy="1681" rx="36" ry="30" fill="#c8c8cc"/>
<ellipse cx="1038" cy="1684" rx="12" ry="10" fill="none" stroke-width="2"/>
<g fill="#444" stroke="none"><circle cx="1016" cy="1668" r="2.5"/><circle cx="1030" cy="1660" r="2.5"/><circle cx="1050" cy="1662" r="2.5"/><circle cx="1062" cy="1676" r="2.5"/><circle cx="1060" cy="1696" r="2.5"/><circle cx="1012" cy="1690" r="2.5"/></g>
<ellipse cx="1033" cy="1854" rx="80" ry="99" transform="rotate(-11 1033 1854)" fill="#7c7c80"/>
<ellipse cx="1031" cy="1855" rx="72" ry="91" transform="rotate(-11 1031 1855)" fill="#b4b4b8"/>
<ellipse cx="1027" cy="1858" rx="62" ry="81" transform="rotate(-11 1027 1858)" fill="url(#pink)"/>
<g stroke="#8a3434" stroke-width="2" fill="none"><path d="M1040,1790 C1070,1820 1075,1880 1055,1925"/><line x1="1050" y1="1800" x2="1075" y2="1802"/><line x1="1060" y1="1820" x2="1082" y2="1826"/><line x1="1065" y1="1842" x2="1086" y2="1850"/><line x1="1066" y1="1864" x2="1085" y2="1874"/><line x1="1062" y1="1886" x2="1080" y2="1898"/><line x1="1056" y1="1906" x2="1072" y2="1918"/></g>
<text transform="translate(971,1690) rotate(31)" font-size="40" font-weight="bold" fill="#fff" stroke="#bbb" stroke-width="0.6" textLength="155" lengthAdjust="spacingAndGlyphs">ukrvent.ua</text>
</g>

<!-- ===== FOOTER ===== -->
<g font-size="25" fill="#222">
<text x="98" y="2187" textLength="262" lengthAdjust="spacingAndGlyphs">УКРВЕНТСИСТЕМИ</text>
<text x="98" y="2218" textLength="194" lengthAdjust="spacingAndGlyphs">сайт:ukrvent.ua</text>
<text x="98" y="2249" textLength="324" lengthAdjust="spacingAndGlyphs">E-mail: zavod@ukrvent.ua</text>
<text x="1575" y="2187" text-anchor="end" textLength="197" lengthAdjust="spacingAndGlyphs">Відділ продажу</text>
<text x="1575" y="2218" text-anchor="end" textLength="400" lengthAdjust="spacingAndGlyphs">+38 (097) 699-14-81 - Київстар;</text>
<text x="1575" y="2249" text-anchor="end" textLength="475" lengthAdjust="spacingAndGlyphs">+38 (099) 199-69-06 - Vodofon (Viber)</text>
</g>
</svg>
</body></html>
